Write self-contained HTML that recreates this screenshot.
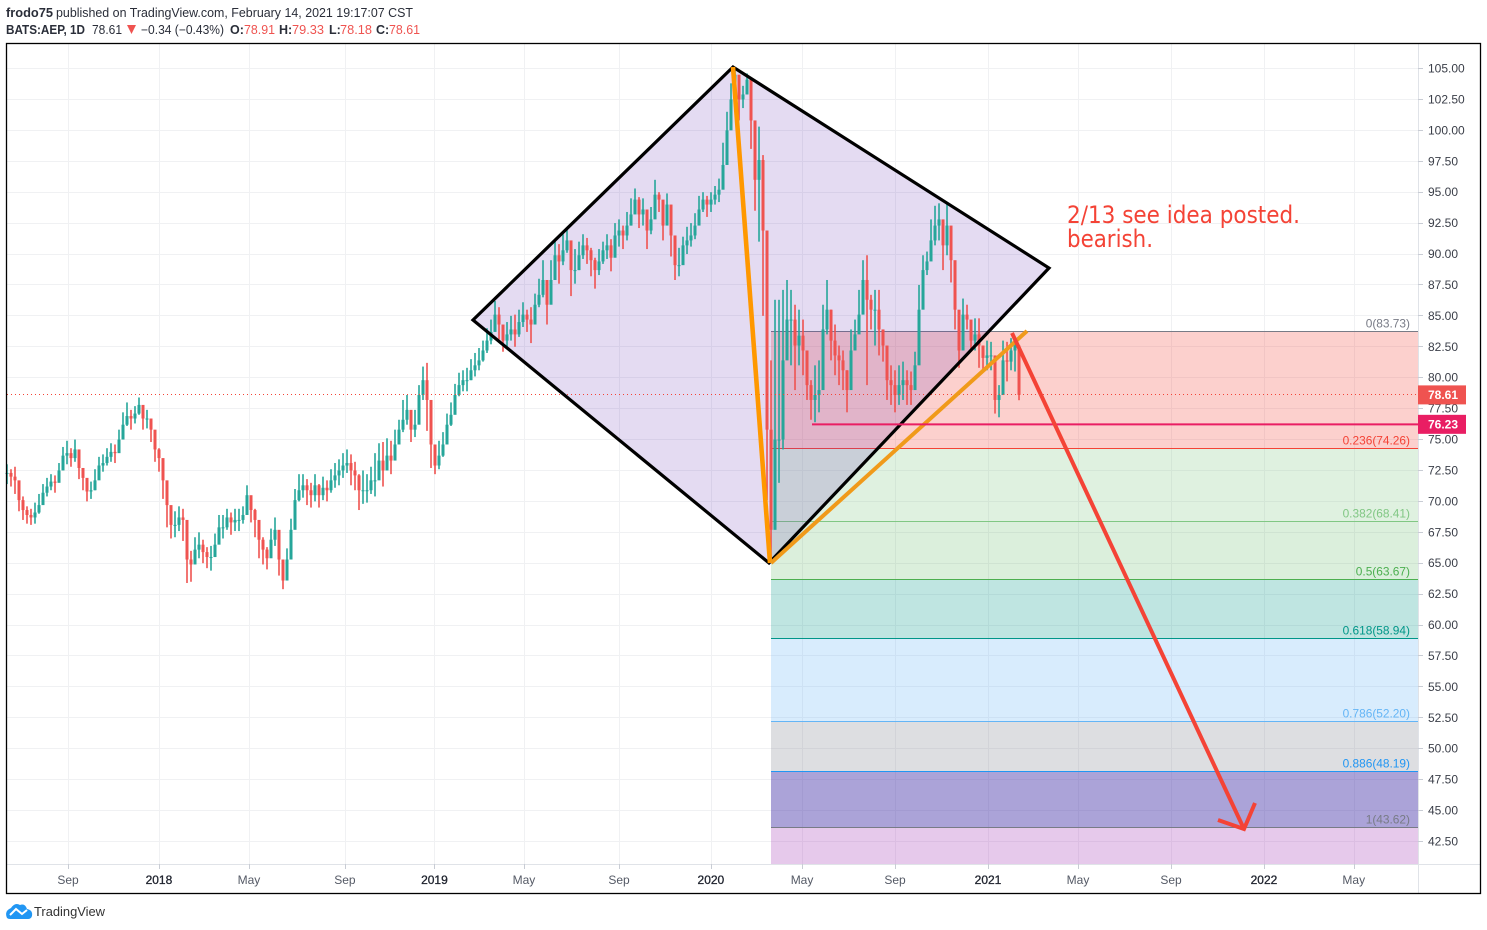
<!DOCTYPE html>
<html lang="en">
<head>
<meta charset="utf-8">
<title>AEP chart</title>
<style>
html,body{margin:0;padding:0;background:#fff;width:1487px;height:930px;overflow:hidden}
svg{display:block;font-family:"Liberation Sans","DejaVu Sans",sans-serif}
text{white-space:pre}
</style>
</head>
<body>
<svg id="chart" width="1487" height="930" viewBox="0 0 1487 930" xmlns="http://www.w3.org/2000/svg">
<rect width="1487" height="930" fill="#fff"/>
<g font-size="12.5" fill="#2a2e39">
<text x="6" y="17" font-weight="bold" textLength="47" lengthAdjust="spacingAndGlyphs">frodo75</text>
<text x="56" y="17" textLength="357" lengthAdjust="spacingAndGlyphs">published on TradingView.com, February 14, 2021 19:17:07 CST</text>
<text x="6" y="34" font-weight="bold" textLength="79" lengthAdjust="spacingAndGlyphs">BATS:AEP, 1D</text>
<text x="92" y="34" textLength="30" lengthAdjust="spacingAndGlyphs">78.61</text>
<polygon points="127,25 136,25 131.5,34" fill="#ef5350"/>
<text x="141" y="34" textLength="83" lengthAdjust="spacingAndGlyphs">−0.34 (−0.43%)</text>
<text x="230" y="34" font-weight="bold">O:</text>
<text x="244" y="34" fill="#ef5350" textLength="31" lengthAdjust="spacingAndGlyphs">78.91</text>
<text x="279" y="34" font-weight="bold">H:</text>
<text x="292" y="34" fill="#ef5350" textLength="32" lengthAdjust="spacingAndGlyphs">79.33</text>
<text x="329" y="34" font-weight="bold">L:</text>
<text x="340" y="34" fill="#ef5350" textLength="32" lengthAdjust="spacingAndGlyphs">78.18</text>
<text x="376" y="34" font-weight="bold">C:</text>
<text x="389" y="34" fill="#ef5350" textLength="31" lengthAdjust="spacingAndGlyphs">78.61</text>
</g>
<g id="grid"></g>
<g id="fib"></g>
<polygon points="473,320 733,67 1049,268 769,563" fill="rgba(103,58,183,.18)"/>
<g id="bars"></g>
<polygon points="473,320 733,67 1049,268 769,563" fill="none" stroke="#000" stroke-width="3.2" stroke-linejoin="miter"/>
<line x1="733" y1="67" x2="770" y2="563" stroke="#ff9800" stroke-width="4.6"/>
<line x1="771" y1="563" x2="1027" y2="331" stroke="#f09a1a" stroke-width="4"/>
<line id="supportLine" x1="812" x2="1418" stroke="#e91e63" stroke-width="2"/>
<g fill="none" stroke="#f44336" stroke-width="4">
<line x1="1012" y1="333" x2="1244" y2="829"/>
<polyline points="1218,820 1244,829 1255,803"/>
</g>
<g fill="#f44336" font-size="24" font-family="'DejaVu Sans','Liberation Sans',sans-serif">
<text x="1067" y="223" textLength="233" lengthAdjust="spacingAndGlyphs">2/13 see idea posted.</text>
<text x="1067" y="247" textLength="86" lengthAdjust="spacingAndGlyphs">bearish.</text>
</g>
<g id="axes"></g>
<rect x="6.5" y="43.5" width="1474" height="850" fill="none" stroke="#000" stroke-width="1.3"/>
<g>
<path d="M7 918Q4 911 11 908Q15 902 20 905Q25 903 27 909Q33 910 32 916Q31 919 28 919L10 919Q8 919 7 918Z" fill="#2196f3"/>
<polyline points="10,915 16,909 22,914 27,910" fill="none" stroke="#fff" stroke-width="2"/>
<text x="34" y="916" font-size="12.5" fill="#333" textLength="71" lengthAdjust="spacingAndGlyphs">TradingView</text>
</g>
</svg>
<script>
const closes=[
72.3,72.0,71.7,70.1,69.3,68.9,68.7,69.1,69.7,70.7,
71.2,71.6,71.5,72.5,73.7,73.9,73.5,74.2,72.7,71.9,
70.8,70.9,71.7,72.9,73.1,73.6,74.0,73.9,75.0,76.2,
76.9,76.7,77.1,77.8,76.7,76.7,75.8,74.2,73.5,71.7,
69.7,68.1,68.1,68.7,68.5,65.3,64.9,66.1,66.5,65.9,
65.5,65.5,66.5,67.9,67.9,68.7,68.3,68.5,68.5,68.9,
70.5,69.3,68.5,66.9,66.1,65.4,66.9,67.7,65.3,63.6,
65.3,67.7,70.1,70.9,71.3,70.9,70.5,71.3,70.5,71.1,
70.9,71.7,72.1,72.5,72.9,73.1,72.5,72.1,70.9,70.9,
70.9,71.7,71.7,73.3,72.5,73.7,73.3,74.6,75.8,76.6,
77.4,75.8,76.2,78.6,79.8,78.2,74.6,72.9,73.7,74.6,
76.2,77.0,78.6,79.4,79.8,79.8,80.6,81.0,81.4,82.2,
83.0,83.7,85.1,84.3,83.0,83.5,83.9,83.5,84.5,85.1,
84.7,84.3,85.9,86.7,87.9,85.9,87.9,89.9,89.4,90.3,
91.1,88.7,88.7,89.9,90.7,90.3,89.5,88.7,89.4,90.3,
90.7,89.7,91.5,91.9,91.5,92.3,93.2,94.4,93.2,93.6,
91.9,92.8,94.8,94.4,92.3,94.0,91.5,89.1,89.1,90.7,
91.1,91.5,92.3,93.6,94.4,94.0,94.4,94.8,95.2,97.2,
100.0,102.5,104.5,102.5,102.9,104.1,100.8,96.0,97.6,91.9,
75.8,67.7,75.0,75.0,81.4,84.7,84.7,82.6,83.4,82.2,
79.4,78.2,78.6,79.0,83.9,85.5,83.0,81.8,81.4,80.6,
79.0,82.2,83.5,85.1,87.9,86.3,85.5,85.5,83.9,82.6,
79.8,79.4,78.6,79.4,79.8,79.4,79.0,81.0,85.5,88.7,
89.4,91.1,92.3,92.8,90.7,92.3,89.5,85.5,82.2,85.1,
84.7,83.0,83.5,82.6,81.6,81.8,81.8,78.2,78.6,81.4,
81.3,82.2,82.6,78.61];
const highs=[
73.0,72.6,72.8,71.6,70.4,69.6,69.4,69.9,70.6,71.4,
71.9,72.2,72.1,73.1,74.4,74.9,74.3,75.0,73.6,72.7,
71.5,71.6,72.6,73.6,73.8,74.3,74.7,74.6,75.8,77.2,
78.0,77.4,77.7,78.4,77.7,77.4,76.6,75.1,74.3,72.6,
70.9,69.3,69.2,69.6,69.4,66.5,66.0,67.1,67.5,66.9,
66.3,66.4,67.4,68.9,68.9,69.4,69.1,69.4,69.4,69.6,
71.3,70.2,69.4,67.9,67.1,66.3,67.8,68.7,66.8,64.8,
66.2,68.6,71.0,72.2,72.2,71.8,71.5,72.2,71.4,72.0,
71.7,72.6,73.1,73.4,73.9,74.2,73.8,73.2,72.2,72.5,
72.2,72.8,73.9,74.7,74.8,75.1,74.9,75.8,76.6,78.2,
78.6,77.3,77.4,79.4,80.9,81.2,76.6,74.4,74.9,75.6,
77.1,78.0,79.5,80.4,80.6,80.8,81.5,82.0,82.4,83.0,
84.0,84.7,86.2,85.7,84.0,84.5,85.0,85.1,85.5,86.1,
85.5,85.7,86.8,88.0,89.5,87.3,89.5,91.0,90.8,91.6,
92.0,90.2,90.4,91.0,91.6,91.3,90.5,89.7,90.4,91.0,
91.6,91.2,92.5,92.8,92.3,93.4,94.5,95.3,94.6,94.5,
93.4,93.8,96.0,95.0,93.4,94.9,93.0,90.5,90.5,91.4,
92.2,92.5,93.3,94.7,95.0,94.7,95.0,95.5,96.1,99.0,
101.5,103.8,105.0,104.0,103.6,104.6,102.5,99.0,100.3,98.0,
88.7,81.4,86.3,86.3,87.1,87.9,87.1,85.9,85.5,84.7,
81.4,79.8,81.0,81.4,85.9,87.9,85.5,84.3,82.6,82.2,
80.6,83.9,84.7,87.1,89.5,89.9,86.7,87.1,87.1,83.9,
81.4,81.0,80.6,81.0,81.3,80.6,80.5,82.1,87.5,89.9,
90.2,92.8,93.9,94.1,92.3,94.2,91.1,87.5,83.9,86.4,
85.9,84.3,84.8,84.8,82.6,83.0,82.9,79.4,79.4,83.0,
82.9,83.2,83.2,79.33];
const lows=[
71.4,71.2,70.6,69.2,68.5,68.2,68.1,68.2,69.0,70.0,
70.4,70.9,70.7,71.7,72.9,73.0,72.8,73.2,71.8,70.9,
70.0,70.2,70.9,72.0,72.4,72.9,73.2,73.1,74.1,75.4,
76.1,75.8,76.3,77.0,75.8,75.9,74.8,73.2,72.4,70.2,
67.9,67.0,67.1,67.6,66.8,63.4,63.5,65.1,65.4,65.0,
64.6,64.4,65.5,66.9,67.0,67.7,67.3,67.6,67.6,68.2,
69.5,68.3,67.1,65.4,64.9,64.5,65.9,66.4,64.0,62.9,
64.2,66.0,68.9,70.0,70.3,69.7,69.5,70.0,69.5,70.1,
70.0,70.7,71.1,71.3,71.9,72.3,71.3,70.9,69.3,69.8,
69.9,70.6,70.4,72.1,71.2,72.7,72.2,73.6,74.8,75.6,
76.2,74.8,75.2,77.4,78.2,75.7,72.7,72.2,72.6,73.6,
75.2,76.1,77.4,78.5,78.9,78.9,79.8,80.1,80.6,81.3,
82.0,82.7,83.8,83.1,82.1,82.4,83.0,82.5,83.3,84.1,
83.7,82.8,84.8,85.7,86.5,84.3,86.7,88.6,87.6,89.1,
90.1,86.6,87.6,88.7,89.6,89.2,88.2,87.2,88.3,89.2,
89.6,88.6,90.5,90.6,90.4,91.1,92.3,93.3,92.1,92.3,
90.4,91.6,93.5,93.4,91.1,92.9,89.8,87.9,88.2,89.8,
90.0,90.6,91.2,92.6,93.4,93.0,93.4,94.0,94.2,95.8,
98.5,100.8,102.8,100.8,101.8,102.9,98.5,93.5,91.0,85.0,
70.1,65.0,68.0,71.5,74.2,82.6,81.0,79.0,81.0,80.2,
78.2,76.6,76.4,77.2,82.6,83.5,81.4,80.2,79.4,79.0,
77.2,80.2,82.2,83.9,86.3,79.4,83.9,82.6,81.8,81.3,
78.2,77.8,77.2,77.8,78.2,77.8,77.8,80.2,82.2,86.9,
88.3,89.5,90.7,91.1,88.7,89.9,87.7,83.9,80.8,83.9,
83.9,82.1,82.2,80.8,80.5,80.6,80.6,77.1,76.8,79.7,
79.7,80.6,80.5,78.18];
const priceTickLabels=["105.00","102.50","100.00","97.50","95.00","92.50","90.00","87.50","85.00","82.50","80.00","77.50","75.00","72.50","70.00","67.50","65.00","62.50","60.00","57.50","55.00","52.50","50.00","47.50","45.00","42.50"];
const timeTickLabels=["Sep","2018","May","Sep","2019","May","Sep","2020","May","Sep","2021","May","Sep","2022","May"];
const timeTickMonths=[0,3.96,7.88,12.06,15.96,19.86,24,28,31.97,36.02,40.07,43.99,48.04,52.09,56];
const fibRatios=["0","0.236","0.382","0.5","0.618","0.786","0.886","1"];
const fibPrices=[83.73,74.26,68.41,63.67,58.94,52.20,48.19,43.62];
const lastClose=78.61;
const supportPrice=76.23;

const svgNS='http://www.w3.org/2000/svg';
const PANE={left:7,right:1418,top:44,bottom:864};
function yScale(p){return 68.5+(105-p)*12.368;}
function timeX(m){return 68+22.96*m;}
const firstBarMonth=-2.657, barMonths=0.17422;
function barX(i){return timeX(firstBarMonth+i*barMonths);}
function mk(parent,tag,attrs,txt){
  const e=document.createElementNS(svgNS,tag);
  for(const k in attrs)e.setAttribute(k,attrs[k]);
  if(txt!==undefined)e.textContent=txt;
  parent.appendChild(e);
  return e;
}
const gridG=document.getElementById('grid'),barsG=document.getElementById('bars'),fibG=document.getElementById('fib'),axesG=document.getElementById('axes');

priceTickLabels.forEach(function(l){
  const y=Math.floor(yScale(parseFloat(l)))+.5;
  const gl=mk(gridG,'line',{x1:PANE.left,x2:PANE.right,y1:y,y2:y,stroke:'#f0f1f3'});
  
  
});
timeTickMonths.forEach(function(m){
  const x=Math.round(timeX(m))+.5;
  const gl=mk(gridG,'line',{x1:x,x2:x,y1:PANE.top,y2:PANE.bottom,stroke:'#f0f1f3'});
  
  
});

closes.forEach(function(c,i){
  const o=i?closes[i-1]:c;
  const col=c>=o?'#26a69a':'#ef5350';
  const x=barX(i);
  const g=mk(barsG,'g',{fill:col});
  
  
  const wickTop=yScale(highs[i]),wickBot=yScale(lows[i]);
  mk(g,'rect',{x:x-.8,y:wickTop,width:1.6,height:Math.max(wickBot-wickTop,1)});
  const bTop=yScale(Math.max(o,c)),bBot=yScale(Math.min(o,c));
  mk(g,'rect',{x:x-1.5,y:bTop,width:3,height:Math.max(bBot-bTop,1)});
});

const lastY=yScale(lastClose);
const lastLineY=Math.floor(lastY)+.5;
const lastLine=mk(barsG,'line',{x1:PANE.left,x2:PANE.right,y1:lastLineY,y2:lastLineY,stroke:'#f44336','stroke-dasharray':'1 3'});



const fibFills=['rgba(244,67,54,.25)','rgba(129,199,132,.25)','rgba(76,175,80,.2)','rgba(0,150,136,.25)','rgba(100,181,246,.25)','rgba(120,123,134,.25)','rgba(69,51,169,.45)'];
const fibColors=['#787b86','#f44336','#81c784','#4caf50','#009688','#64b5f6','#2196f3','#787b86'];
const FIB_LEFT=771;
fibPrices.forEach(function(p,i){
  if(i<fibPrices.length-1){
    const y0=yScale(p),y1=yScale(fibPrices[i+1]);
    const band=mk(fibG,'rect',{x:FIB_LEFT,y:y0,width:PANE.right-FIB_LEFT,height:y1-y0,fill:fibFills[i]});
    
    
  }
});
const lastFibY=yScale(fibPrices[fibPrices.length-1]);
const extBand=mk(fibG,'rect',{x:FIB_LEFT,y:lastFibY,width:PANE.right-FIB_LEFT,height:PANE.bottom-lastFibY,fill:'rgba(156,39,176,.25)'});


fibPrices.forEach(function(p,i){
  const y=Math.floor(yScale(p))+.5;
  const fl=mk(fibG,'line',{x1:FIB_LEFT,x2:PANE.right,y1:y,y2:y,stroke:fibColors[i]});
  
  
  const ft=mk(fibG,'text',{x:1410,y:y-4,'text-anchor':'end','font-size':11.9,fill:fibColors[i]},fibRatios[i]+'('+p.toFixed(2)+')');
  
  
});

const sy=yScale(supportPrice);
const sl=document.getElementById('supportLine');
sl.setAttribute('y1',sy);
sl.setAttribute('y2',sy);

const priceAxisLine=mk(axesG,'line',{x1:PANE.right+.5,x2:PANE.right+.5,y1:PANE.top,y2:893,stroke:'#e0e3e8'});


const timeAxisLine=mk(axesG,'line',{x1:PANE.left,x2:1480,y1:PANE.bottom+.5,y2:PANE.bottom+.5,stroke:'#e0e3e8'});



priceTickLabels.forEach(function(l){
  const y=yScale(parseFloat(l));
  const t=mk(axesG,'line',{x1:PANE.right,x2:PANE.right+5,y1:Math.floor(y)+.5,y2:Math.floor(y)+.5,stroke:'#c8ccd4'});
  
  
  const tl=mk(axesG,'text',{x:1428,y:y+4,'font-size':12,fill:'#3a3e48'},l);
  
  
});
timeTickLabels.forEach(function(l,i){
  const x=timeX(timeTickMonths[i]);
  const t=mk(axesG,'line',{x1:Math.round(x)+.5,x2:Math.round(x)+.5,y1:PANE.bottom,y2:PANE.bottom+5,stroke:'#c8ccd4'});
  
  
  const isYear=/^\d+$/.test(l);
  const tl=mk(axesG,'text',{x:x,y:884,'text-anchor':'middle','font-size':12,fill:isYear?'#1e222d':'#555a66',stroke:isYear?'#1e222d':'none','stroke-width':.3},l);
  
  
});

const lastPill=mk(axesG,'rect',{x:PANE.right,y:lastY-9.5,width:48,height:19,fill:'#ef5350'});


const lastPillText=mk(axesG,'text',{x:1428,y:lastY+4.3,'font-size':12,'font-weight':'bold',fill:'#fff'},lastClose.toFixed(2));


const supPill=mk(axesG,'rect',{x:PANE.right,y:sy-9.5,width:48,height:19,fill:'#e91e63'});


const supPillText=mk(axesG,'text',{x:1428,y:sy+4.3,'font-size':12,'font-weight':'bold',fill:'#fff'},supportPrice.toFixed(2));


</script>
</body>
</html>
